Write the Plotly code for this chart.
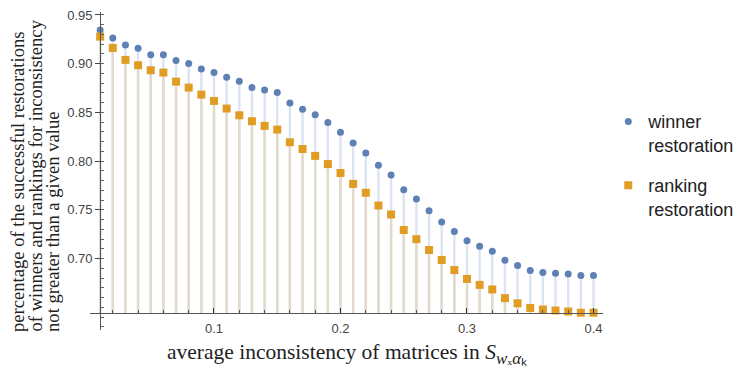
import plotly.graph_objects as go

# data
x_vals = [round(0.01 * i, 2) for i in range(1, 41)]

winner = [0.9346, 0.9264, 0.9192, 0.9158, 0.9093, 0.9093, 0.9032, 0.9001, 0.8946, 0.8909,
          0.8861, 0.8820, 0.8755, 0.8731, 0.8704, 0.8598, 0.8532, 0.8477, 0.8396, 0.8298,
          0.8186, 0.8085, 0.7957, 0.7859, 0.7707, 0.7612, 0.7491, 0.7375, 0.7278, 0.7183,
          0.7126, 0.7075, 0.6984, 0.6930, 0.6879, 0.6859, 0.6849, 0.6842, 0.6828, 0.6828]

ranking = [0.9278, 0.9162, 0.9039, 0.8984, 0.8933, 0.8909, 0.8816, 0.8755, 0.8683, 0.8618,
           0.8540, 0.8471, 0.8410, 0.8362, 0.8324, 0.8194, 0.8125, 0.8054, 0.7970, 0.7879,
           0.7767, 0.7676, 0.7545, 0.7453, 0.7294, 0.7200, 0.7089, 0.6987, 0.6883, 0.6792,
           0.6731, 0.6684, 0.6595, 0.6542, 0.6494, 0.6478, 0.6468, 0.6458, 0.6445, 0.6445]

y_ticks = [0.70, 0.75, 0.80, 0.85, 0.90, 0.95]
x_ticks = [0.1, 0.2, 0.3, 0.4]

AXIS_Y = 0.6443
X_RANGE = [0.00198, 0.40752]
Y_RANGE = [0.6268, 0.95304]

BLUE = "#5E81B5"
ORANGE = "#E19C24"

# page has an 8px body margin, so the figure is 8px smaller than the window
W, H = 739, 360
L, R, T, B = 82, 144, 0, 38
PW = W - L - R
PH = H - T - B


def stems(xs, ys):
    sx, sy = [], []
    for x, y in zip(xs, ys):
        sx += [x, x, None]
        sy += [AXIS_Y, y, None]
    return sx, sy


fig = go.Figure()

bx, by = stems(x_vals, winner)
fig.add_trace(go.Scatter(x=bx, y=by, mode="lines", line=dict(color="#DCE4F1", width=2.4),
                         showlegend=False, hoverinfo="skip"))
ox, oy = stems(x_vals, ranking)
fig.add_trace(go.Scatter(x=ox, y=oy, mode="lines", line=dict(color="#E2DACB", width=2.4),
                         showlegend=False, hoverinfo="skip"))

fig.add_trace(go.Scatter(
    x=x_vals, y=winner, mode="markers", name="winner<br>restoration",
    marker=dict(symbol="circle", size=7, color=BLUE),
    legendgroup="w", cliponaxis=False
))
fig.add_trace(go.Scatter(
    x=x_vals, y=ranking, mode="markers", name="ranking<br>restoration",
    marker=dict(symbol="square", size=8, color=ORANGE),
    legendgroup="r", cliponaxis=False
))

fig.update_layout(
    width=W,
    height=H,
    margin=dict(l=L, r=R, t=T, b=B, pad=0),
    paper_bgcolor="white",
    plot_bgcolor="white",
    font=dict(family="Liberation Sans", size=13, color="#444444"),
    showlegend=True,
    legend=dict(
        x=1.0103, y=0.713, xanchor="left", yanchor="top",
        font=dict(family="Liberation Sans", size=18, color="#222222"),
        valign="top", traceorder="grouped", tracegroupgap=14,
        bgcolor="rgba(0,0,0,0)"
    ),
    xaxis=dict(
        range=X_RANGE, showgrid=False, zeroline=False,
        anchor="free", position=(AXIS_Y - Y_RANGE[0]) / (Y_RANGE[1] - Y_RANGE[0]),
        showline=True, linecolor="#555555", linewidth=1.2,
        tickvals=x_ticks, ticktext=[str(v) for v in x_ticks],
        ticks="inside", ticklen=5, tickcolor="#333333", ticklabelstandoff=3,
        minor=dict(dtick=0.02, tick0=0, ticks="inside", ticklen=3, tickcolor="#555555"),
        tickfont=dict(size=13, color="#444444"),
    ),
    yaxis=dict(
        range=Y_RANGE, showgrid=False, zeroline=False,
        anchor="free", position=(0.01 - X_RANGE[0]) / (X_RANGE[1] - X_RANGE[0]),
        showline=True, linecolor="#555555", linewidth=1,
        tickvals=y_ticks, ticktext=[f"{v:.2f}" for v in y_ticks],
        ticks="outside", ticklen=5, tickcolor="#444444", ticklabeloverflow="allow",
        minor=dict(dtick=0.01, tick0=0.6, ticks="inside", ticklen=3, tickcolor="#666666"),
        tickfont=dict(size=13, color="#444444"),
    ),
)

# x-axis title
fig.add_annotation(
    text=("average inconsistency of matrices in <i>S</i>"
          "<sub><span style=\"font-size:17px\"><i>w</i>ₓ<i>α</i>ₖ</span></sub>"),
    xref="paper", yref="paper", x=0.5, y=-0.075, xanchor="center", yanchor="middle",
    showarrow=False, font=dict(family="Liberation Serif", size=21.5, color="#222222")
)

# y-axis title, three rotated lines, aligned at the bottom
y_title = ["percentage of the successful restorations",
           "of winners and rankings for inconsistency",
           "not greater than a given value"]
for px, line in zip([10, 27.5, 45], y_title):
    fig.add_annotation(
        text=line, textangle=-90,
        xref="paper", yref="paper", x=(px - L) / PW, y=-4 / PH,
        xanchor="center", yanchor="bottom", showarrow=False,
        font=dict(family="Liberation Serif", size=18.6, color="#222222")
    )

fig.write_html("out.html")
